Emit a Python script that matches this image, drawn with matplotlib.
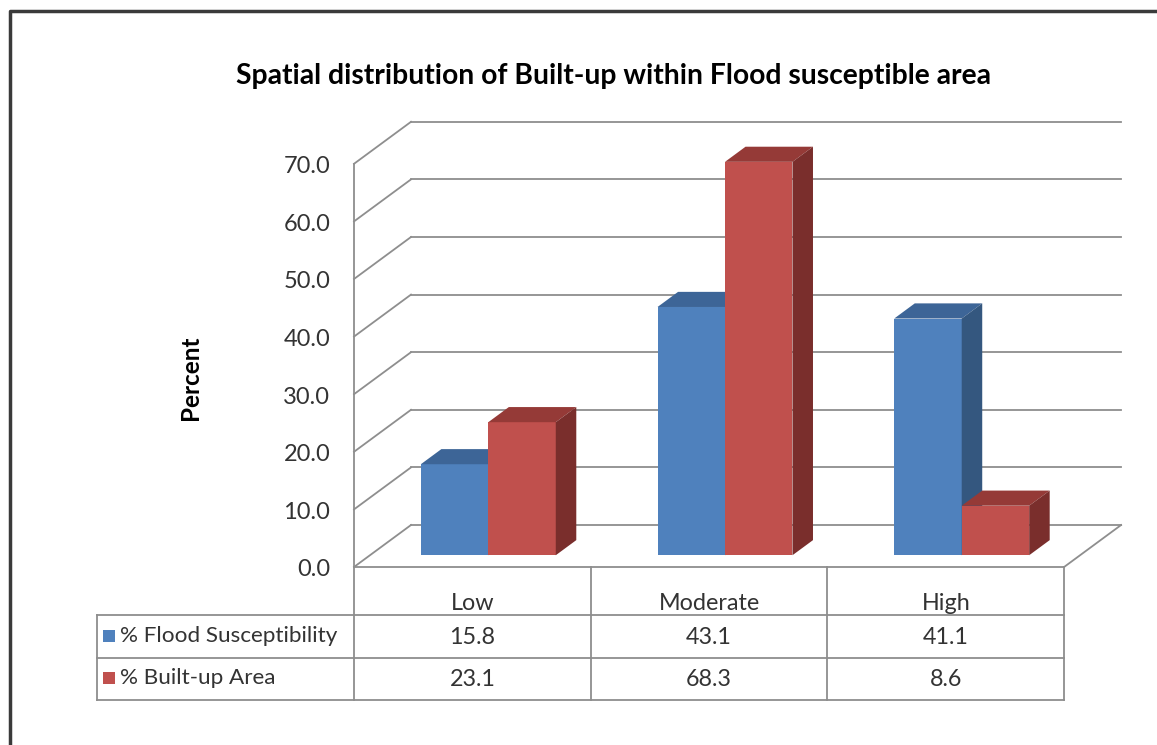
import matplotlib
matplotlib.use('Agg')
import matplotlib.pyplot as plt
from matplotlib.patches import Polygon, Rectangle

plt.rcParams['font.family'] = ['Lato', 'DejaVu Sans']

# data
categories = ['Low', 'Moderate', 'High']
flood_pct = [15.8, 43.1, 41.1]
builtup_pct = [23.1, 68.3, 8.6]
series_names = ['% Flood Susceptibility', '% Built-up Area']
y_ticks = [0, 10, 20, 30, 40, 50, 60, 70]

# colours (front, top, side)
BLUE = ('#4F81BD', '#3D6597', '#34577F')
RED = ('#C0504D', '#953A37', '#7A2E2C')
GRID = '#8E8E8E'
TXT = '#333333'

W, H = 1157, 745
FX0, FY0 = 354, 567          # front-left floor corner (px)
CAT_PX = 236.7               # one category width (px)
UNIT_PX = 57.6 / 10          # one percent (px)

fig = plt.figure(figsize=(W / 100, H / 100), dpi=100)
fig.patch.set_facecolor('white')

ax = fig.add_axes([0, 0, 1, 1])
ax.set_xlim(-FX0 / CAT_PX, (W - FX0) / CAT_PX)
ax.set_ylim(-(H - FY0) / UNIT_PX, FY0 / UNIT_PX)
ax.axis('off')

# depth of the 3d box, in data units
DX = 57 / CAT_PX
DY = 42 / UNIT_PX
n = len(categories)
ymax = y_ticks[-1]

# walls: side-wall diagonals and back-wall gridlines
for v in y_ticks:
    ax.plot([0, DX], [v, v + DY], color=GRID, lw=1.3, zorder=1)
    ax.plot([DX, n + DX], [v + DY, v + DY], color=GRID, lw=1.3, zorder=1)
ax.plot([0, 0], [0, ymax], color=GRID, lw=1.3, zorder=1)
# floor
ax.plot([0, n], [0, 0], color=GRID, lw=1.3, zorder=1)
ax.plot([n, n + DX], [0, DY], color=GRID, lw=1.3, zorder=1)

for v in y_ticks:
    ax.text(-0.1, v - 0.5, f'{v:.1f}', ha='right', va='center',
            fontsize=17, color=TXT)

# bars
BW = 0.285
F1, DEPTH = 0.28, 0.36


def draw_bar(xl, v, cols):
    yb = F1 * DY
    top = yb + v
    ddx, ddy = DEPTH * DX, DEPTH * DY
    ax.add_patch(Rectangle((xl, yb), BW, v, facecolor=cols[0], lw=0, zorder=3))
    ax.add_patch(Polygon([(xl, top), (xl + BW, top), (xl + BW + ddx, top + ddy),
                          (xl + ddx, top + ddy)], closed=True,
                         facecolor=cols[1], lw=0, zorder=3))
    ax.add_patch(Polygon([(xl + BW, yb), (xl + BW, top), (xl + BW + ddx, top + ddy),
                          (xl + BW + ddx, yb + ddy)], closed=True,
                         facecolor=cols[2], lw=0, zorder=3))


for i in range(n):
    xl = i + 0.5 - BW + F1 * DX
    draw_bar(xl, flood_pct[i], BLUE)
    draw_bar(xl + BW, builtup_pct[i], RED)

# overlay in pixel coordinates for frame, titles and data table
ov = fig.add_axes([0, 0, 1, 1])
ov.set_xlim(0, W)
ov.set_ylim(H, 0)
ov.axis('off')
ov.patch.set_alpha(0)

ov.plot([10, 10, W], [H, 11, 11], color='#3A3A3A', lw=2.5)

ov.text(613, 76, 'Spatial distribution of Built-up within Flood susceptible area',
        ha='center', va='center', fontsize=20.3, fontweight='bold', color='black')
ov.text(190, 378, 'Percent', ha='center', va='center', rotation=90,
        fontsize=17.5, fontweight='bold', color='black')

# data table
col_x = [FX0 + k * CAT_PX for k in range(n + 1)]
tbl_left = 97
rows_y = [FY0, 615, 658, 700]
for y in rows_y[1:]:
    ov.plot([tbl_left, col_x[-1]], [y, y], color=GRID, lw=1.3)
ov.plot([tbl_left, tbl_left], [rows_y[1], rows_y[-1]], color=GRID, lw=1.3)
ov.plot([col_x[0], col_x[0]], [FY0, rows_y[-1]], color=GRID, lw=1.3)
for x in col_x[1:]:
    ov.plot([x, x], [FY0, rows_y[-1]], color=GRID, lw=1.3)

FS = 16.8
for i, cat in enumerate(categories):
    cx = (col_x[i] + col_x[i + 1]) / 2
    ov.text(cx, 603, cat, ha='center', va='center', fontsize=FS, color=TXT)
    ov.text(cx, 637, f'{flood_pct[i]:.1f}', ha='center', va='center',
            fontsize=FS, color=TXT)
    ov.text(cx, 679, f'{builtup_pct[i]:.1f}', ha='center', va='center',
            fontsize=FS, color=TXT)

for name, yc, col in [(series_names[0], 636, BLUE[0]), (series_names[1], 678, RED[0])]:
    ov.add_patch(Rectangle((103, yc - 6), 12, 12, facecolor=col, lw=0))
    ov.text(120, yc, name, ha='left', va='center', fontsize=16.2, color=TXT)

fig.savefig('out.png', dpi=100)
